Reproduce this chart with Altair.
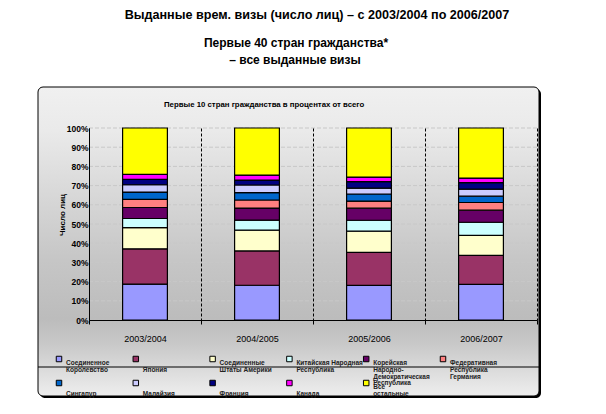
import altair as alt
import pandas as pd

years = ["2003/2004", "2004/2005", "2005/2006", "2006/2007"]
countries = [
    "Соединенное Королевство", "Япония", "Соединенные Штаты Америки",
    "Китайская Народная Республика", "Корейская Народно-Демократическая Республика",
    "Федеративная Республика Германия", "Сингапур", "Малайзия", "Франция",
    "Канада", "Все остальные",
]
legend_labels = [
    "Соединенное\nКоролевство", "\nЯпония", "Соединенные\nШтаты Америки",
    "Китайская Народная\nРеспублика", "Корейская\nНародно-\nДемократическая\nРеспублика",
    "Федеративная\nРеспублика\nГермания", "\nСингапур", "\nМалайзия", "\nФранция",
    "\nКанада", "Все\nостальные",
]
colors = ["#9999FF", "#993366", "#FFFFCC", "#CCFFFF", "#660066", "#FF8080",
          "#0066CC", "#CCCCFF", "#000080", "#FF00FF", "#FFFF00"]

# shares (%) per year
uk        = [18.6, 18.1, 18.1, 18.6]
japan     = [18.3, 17.9, 17.2, 15.1]
usa       = [11.0, 10.8, 11.0, 10.4]
china     = [4.7, 5.2, 5.7, 6.8]
korea     = [5.7, 6.3, 6.3, 6.3]
germany   = [4.2, 4.2, 3.7, 4.0]
singapore = [3.8, 3.8, 3.7, 3.3]
malaysia  = [3.8, 4.0, 3.1, 3.7]
france    = [2.8, 2.6, 3.3, 3.3]
canada    = [2.6, 2.6, 2.4, 2.4]
others    = [24.0, 24.5, 25.6, 26.1]

series = [uk, japan, usa, china, korea, germany, singapore, malaysia, france, canada, others]

rows = []
for ci, (c, vals) in enumerate(zip(countries, series)):
    for y, v in zip(years, vals):
        rows.append({"year": y, "country": c, "value": v, "ord": ci})
df = pd.DataFrame(rows)

leg = pd.DataFrame({
    "country": countries,
    "label": legend_labels,
    "col": [i % 6 for i in range(len(countries))],
    "row": [i // 6 for i in range(len(countries))],
})

FONT = "Liberation Sans"
one = alt.Data(values=[{}])
color_scale = alt.Scale(domain=countries, range=colors)

shadow = alt.Chart(one).mark_rect(fill="black", cornerRadius=5).encode(
    x=alt.value(-49), x2=alt.value(452), y=alt.value(-39), y2=alt.value(270))

grad = {"gradient": "linear", "x1": 0, "y1": 0, "x2": 0, "y2": 1,
        "stops": [
            {"offset": 0.0, "color": "#f0f0f0"},
            {"offset": 0.14, "color": "#eaeaea"},
            {"offset": 0.37, "color": "#d6d6d6"},
            {"offset": 0.56, "color": "#c6c6c6"},
            {"offset": 0.75, "color": "#bcbcbc"},
            {"offset": 0.83, "color": "#c8c8c8"},
            {"offset": 1.0, "color": "#eeeeee"},
        ]}
box = alt.Chart(one).mark_rect(fill=grad, stroke="black", strokeWidth=1, cornerRadius=5).encode(
    x=alt.value(-51), x2=alt.value(450), y=alt.value(-41), y2=alt.value(268))

gridrules = alt.Chart(pd.DataFrame({"t": [i / 10 for i in range(1, 11)]})).mark_rule(
    color="#c8c8c8", strokeDash=[4, 2], strokeWidth=1).encode(
    y=alt.Y("t:Q", scale=alt.Scale(domain=[0, 1]), axis=None))

bars = alt.Chart(df).mark_bar(stroke="black", strokeWidth=1.2, width={"band": 0.4}).encode(
    x=alt.X("year:N", sort=years, title=None,
            scale=alt.Scale(paddingInner=0, paddingOuter=0),
            axis=alt.Axis(labelAngle=0, labelFont=FONT, labelFontSize=9, labelColor="black",
                          domainColor="black", tickColor="black", tickSize=4, labelPadding=10,
                          tickBand="extent", grid=True, gridColor="black", gridDash=[3, 2],
                          gridWidth=1, zindex=1)),
    y=alt.Y("value:Q", stack="normalize", title=None, scale=alt.Scale(domain=[0, 1]),
            axis=alt.Axis(format=".0%", values=[i / 10 for i in range(11)], grid=False,
                          ticks=False, labelPadding=1, labelFont=FONT, labelFontSize=8.5,
                          labelFontWeight="bold", labelColor="black", domainColor="black",
                          zindex=1)),
    color=alt.Color("country:N", scale=color_scale, legend=None),
    order=alt.Order("ord:Q"),
)

def txt(s, x, y, size, weight="bold", align="center", angle=0):
    return alt.Chart(one).mark_text(font=FONT, fontSize=size, fontWeight=weight, align=align,
                                    baseline="middle", color="black", angle=angle).encode(
        x=alt.value(x), y=alt.value(y), text=alt.value(s))

t1 = txt("Выданные врем. визы (число лиц) – с 2003/2004 по 2006/2007", 228, -113, 12.6)
t2 = txt("Первые 40 стран гражданства*", 207, -85, 12)
t3 = txt("– все выданные визы", 206, -68, 12)
t4 = txt("Первые 10 стран гражданства в процентах от всего", 75, -23, 7.8, align="left")
t5 = txt("Число лиц", -26, 87, 8, angle=270)

sep = alt.Chart(one).mark_rule(color="black", strokeWidth=1).encode(
    x=alt.value(-51), x2=alt.value(450), y=alt.value(239))

lx = alt.X("col:Q", scale=alt.Scale(domain=[0, 5], range=[-30, 354], nice=False, zero=False), axis=None)
ly = alt.Y("row:Q", scale=alt.Scale(domain=[0, 1], range=[231, 255], nice=False, zero=False), axis=None)

leg_sq = alt.Chart(leg).mark_square(size=30, stroke="black", strokeWidth=1, opacity=1).encode(
    x=lx, y=ly, color=alt.Color("country:N", scale=color_scale, legend=None))
leg_tx = alt.Chart(leg).mark_text(font=FONT, fontSize=6.5, fontWeight="bold", align="left",
                                  baseline="top", dx=7, dy=1, lineBreak="\n", lineHeight=6.8,
                                  color="#222222").encode(x=lx, y=ly, text="label:N")

chart = alt.layer(shadow, box, gridrules, bars, t1, t2, t3, t4, t5, sep, leg_sq, leg_tx).resolve_scale(
    x="independent", y="independent"
).properties(
    width=448, height=192,
    autosize=alt.AutoSizeParams(type="none"),
    padding={"left": 81, "top": 120, "right": 61, "bottom": 86},
    background="white",
).configure_view(stroke=None)

chart.save("out.html", embed_options={"renderer": "svg", "actions": False})
